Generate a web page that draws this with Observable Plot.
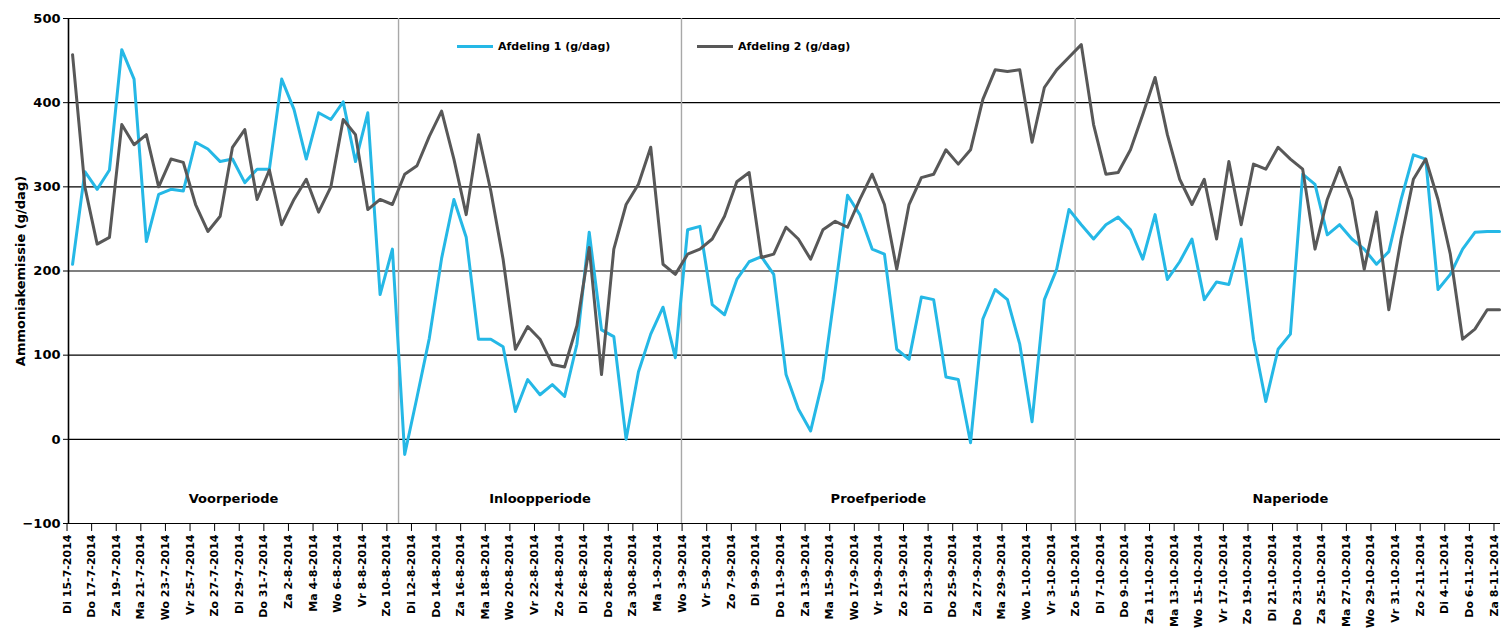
<!DOCTYPE html>
<html><head><meta charset="utf-8">
<script src="https://cdn.jsdelivr.net/npm/d3@7"></script>
<script src="https://cdn.jsdelivr.net/npm/@observablehq/plot@0.6"></script>
<style>
body{margin:0;background:#fff;font-family:"DejaVu Sans",sans-serif;}
#wrap{position:relative;width:1503px;height:630px;}
.legend{position:absolute;top:40px;font:bold 11px "DejaVu Sans",sans-serif;display:flex;align-items:center;gap:5px;color:#000;white-space:nowrap}
.sw{display:inline-block;width:36px;height:3px}
</style></head><body><div id="wrap"></div>
<script>
const startDate = "2014-07-15";
const dayNames = ["Zo","Ma","Di","Wo","Do","Vr","Za"];
const seriesNames = ["Afdeling 1 (g/dag)", "Afdeling 2 (g/dag)"];
const seriesColors = ["#25b8e6", "#585858"];
const afdeling1 = [208,318,297,320,463,428,235,291,297,295,
353,345,330,333,305,321,321,428,392,333,
388,380,401,330,388,172,226,-18,50,120,
215,285,240,119,119,110,33,71,53,65,
51,113,246,130,122,0,80,125,157,97,
249,253,160,148,190,211,217,196,77,36,
10,71,178,290,267,226,220,107,95,169,
166,74,71,-4,143,178,166,113,21,166,
202,273,255,238,255,264,249,214,267,190,
211,238,166,187,184,238,119,45,107,125,
315,303,243,255,238,226,208,223,285,338,
333,178,196,226,246,247,247];
const afdeling2 = [457,300,232,240,374,350,362,300,333,329,
279,247,265,347,368,285,320,255,285,309,
270,300,380,362,273,285,279,315,325,360,
390,333,267,362,295,214,107,134,119,89,
86,135,228,77,226,279,303,347,208,196,
220,226,238,265,306,317,216,220,252,238,
214,249,259,252,285,315,279,202,279,311,
315,344,327,344,404,439,437,439,353,418,
439,454,469,374,315,317,344,386,430,362,
309,279,309,238,330,255,327,321,347,333,
321,226,285,323,285,202,270,154,238,309,
333,285,220,119,131,154,154];
const periodNames = ["Voorperiode","Inloopperiode","Proefperiode","Naperiode"];
const periodStartDays = [0, 27, 50, 82];
const yTicks = [-100,0,100,200,300,400,500];
const yTitle = "Ammoniakemissie (g/dag)";

const n = afdeling1.length;
const t0 = new Date(startDate + "T00:00:00Z");
const dates = d3.range(n).map(i => d3.utcDay.offset(t0, i));
const fmt = d => `${dayNames[d.getUTCDay()]} ${d.getUTCDate()}-${d.getUTCMonth()+1}-${d.getUTCFullYear()}`;
const tickIdx = d3.range(0, n, 2);
const tickLabels = tickIdx.map(i => fmt(dates[i]));

const rows = [];
[afdeling1, afdeling2].forEach((arr, s) => arr.forEach((v, i) => rows.push({i, v, s: seriesNames[s]})));

const xDomain = [-0.33, n - 1 + 0.08];
const bounds = [...periodStartDays.map(d => d - 0.5), n - 0.5];
bounds[0] = xDomain[0];
const periods = periodNames.map((name, k) => ({name, mid: (bounds[k] + bounds[k+1]) / 2}));
const tickOffset = 0.45;

const chart = Plot.plot({
  width: 1503, height: 630,
  marginLeft: 68, marginRight: 3, marginTop: 18, marginBottom: 107,
  x: {domain: xDomain, axis: null},
  y: {domain: [-100, 500], axis: null},
  color: {domain: seriesNames, range: seriesColors},
  style: {fontFamily: "DejaVu Sans", fontWeight: "bold", color: "#000", background: "#fff"},
  marks: [
    Plot.ruleY(yTicks, {stroke: "#000", strokeWidth: 1.2}),
    Plot.ruleX(periodStartDays.slice(1), {x: d => d - 0.5, stroke: "#a8a8a8", strokeWidth: 1.4}),
    Plot.ruleX([xDomain[0]], {stroke: "#000", strokeWidth: 1.6}),
    Plot.axisY({ticks: yTicks, tickSize: 5, tickPadding: 3, fontSize: 13, fontWeight: "bold",
      label: yTitle, labelAnchor: "center", labelArrow: "none", labelOffset: 53}),
    Plot.axisX(tickIdx.map(i => i - tickOffset), {tickSize: 8, tickRotate: -90, tickPadding: 3,
      fontSize: 11, fontWeight: "bold", label: null,
      tickFormat: d => tickLabels[Math.round((d + tickOffset) / 2)]}),
    Plot.line(rows, {x: "i", y: "v", z: "s", stroke: "s", strokeWidth: 3}),
    Plot.text(periods, {x: "mid", y: -71, text: "name", fontSize: 13, fontWeight: "bold", fill: "#000"})
  ]
});
const wrap = document.getElementById("wrap");
wrap.appendChild(chart);
const legendPos = [457, 697];
seriesNames.forEach((name, k) => {
  const el = document.createElement("div");
  el.className = "legend";
  el.style.left = legendPos[k] + "px";
  el.innerHTML = `<span class="sw" style="background:${seriesColors[k]}"></span><span>${name}</span>`;
  wrap.appendChild(el);
});
</script></body></html>
